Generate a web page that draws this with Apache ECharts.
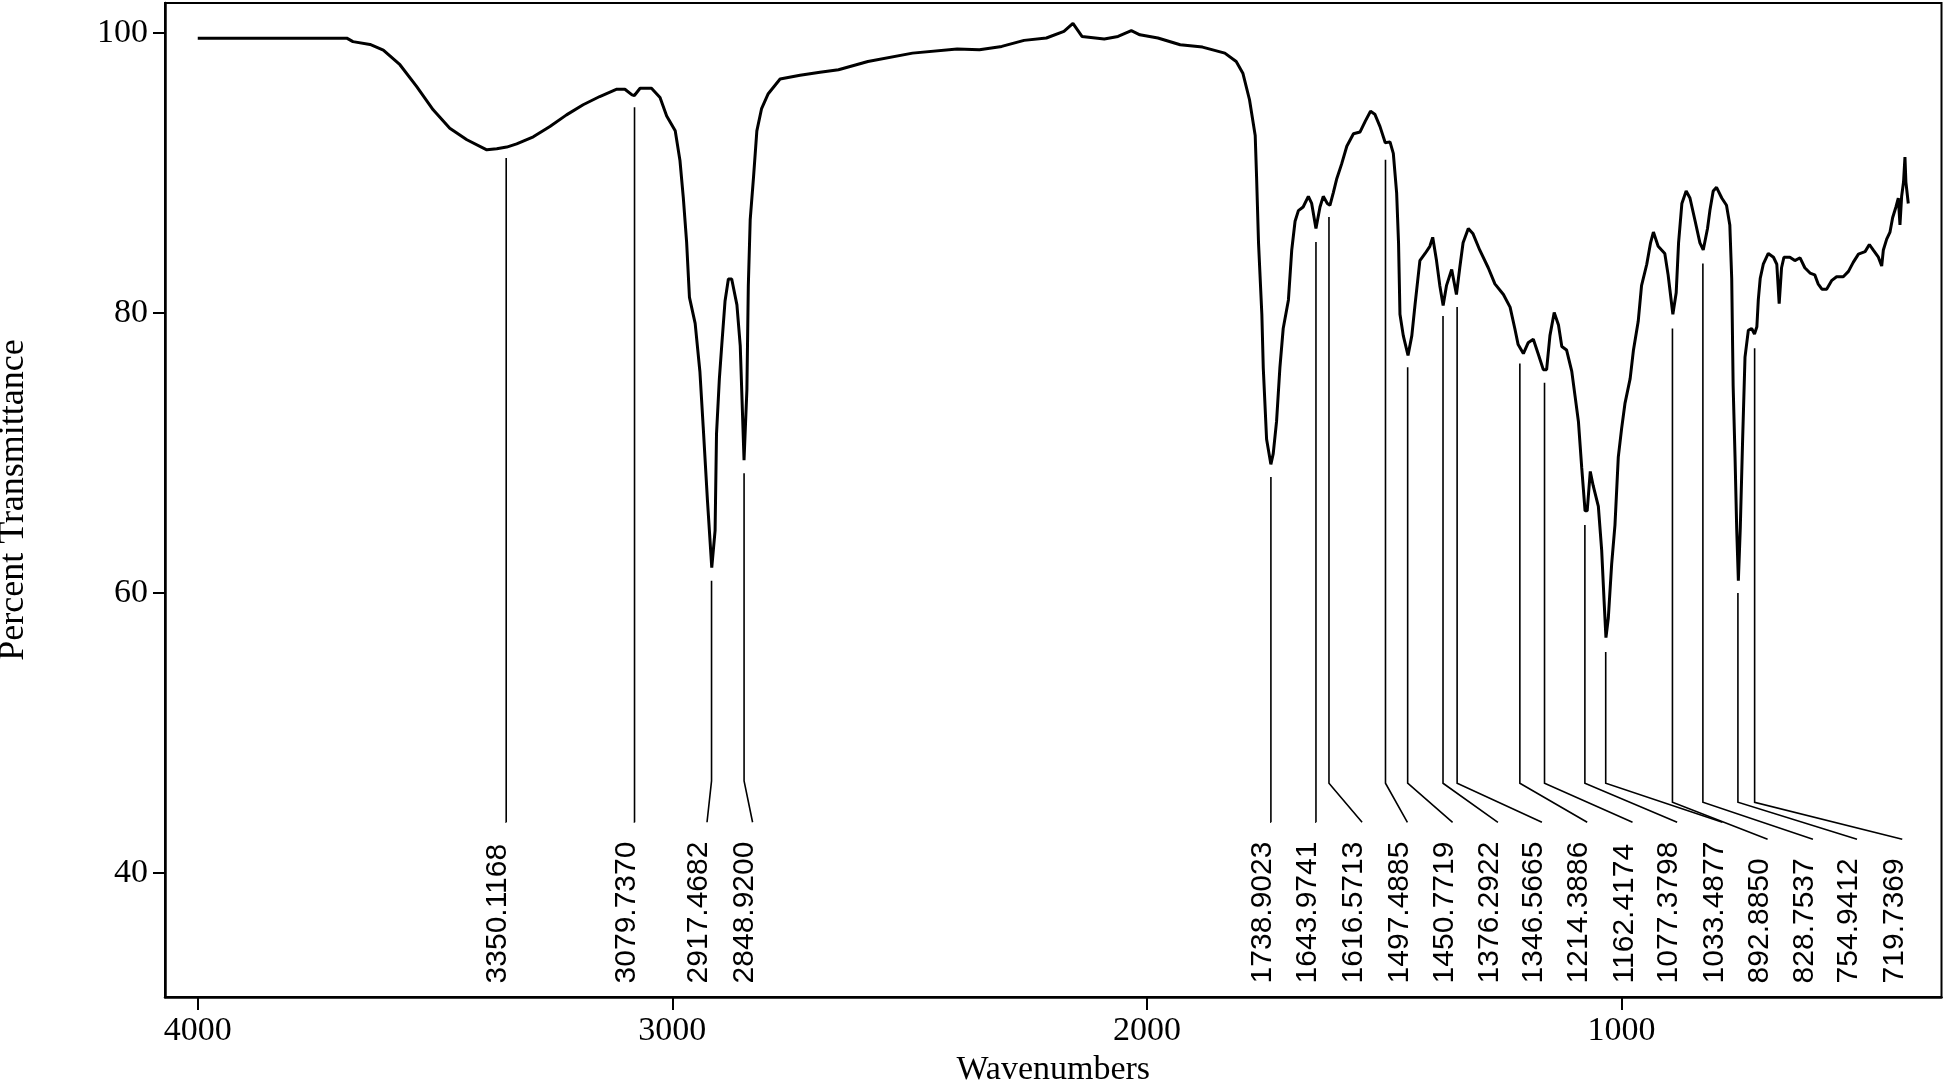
<!DOCTYPE html>
<html>
<head>
<meta charset="utf-8">
<script src="https://cdn.jsdelivr.net/npm/echarts@6/dist/echarts.min.js"></script>
<style>
  html, body { margin: 0; padding: 0; background: #fff; }
  #chart { width: 1946px; height: 1085px; }
</style>
</head>
<body>
<div id="chart"></div>
<script>
// spectrum (wavenumber, % transmittance)
var wavenumbers = [4000, 3720, 3686, 3673, 3637, 3609, 3574, 3539, 3504, 3469, 3433, 3391, 3370, 3349, 3328, 3293, 3258, 3223, 3188, 3153, 3117, 3100, 3085, 3080, 3068, 3044, 3026, 3012, 2994, 2984, 2977, 2970, 2964, 2952, 2942, 2935, 2926, 2917, 2910, 2907, 2901, 2896, 2889, 2882, 2875, 2864, 2857, 2849, 2843, 2840, 2836, 2829, 2822, 2812, 2798, 2773, 2731, 2689, 2650, 2588, 2494, 2400, 2353, 2306, 2259, 2212, 2175, 2156, 2137, 2090, 2061, 2033, 2015, 1977, 1930, 1883, 1836, 1812, 1798, 1784, 1772, 1769, 1765, 1758, 1755, 1748, 1739, 1734, 1727, 1720, 1713, 1702, 1695, 1688, 1681, 1671, 1660, 1653, 1644, 1635.5, 1628.6, 1620, 1614.5, 1607.5, 1600, 1590, 1579, 1565, 1551, 1540, 1529, 1520, 1509, 1498, 1488, 1481, 1474, 1470, 1467, 1460, 1450, 1442, 1435, 1425, 1414, 1404, 1398, 1390, 1383, 1376, 1369, 1358, 1348, 1341, 1334, 1323, 1313, 1299, 1281, 1267, 1249, 1235, 1225, 1218, 1207, 1197, 1186, 1176, 1165, 1158, 1151, 1142, 1133, 1126, 1116, 1105, 1098, 1091, 1084, 1077, 1072.5, 1066, 1060, 1049, 1042, 1037, 1033, 1028, 1021, 1014, 1007, 1000, 993, 982, 975, 965, 958, 947, 939, 933, 923, 909, 902, 892, 885, 880, 873, 864, 856, 845, 835, 828, 819, 814, 807, 800, 789, 779, 772, 768, 765, 761, 757.5, 754, 750, 745, 740, 733, 726, 720, 715, 712, 708, 701.5, 691, 680, 673, 668, 663, 658, 645.5, 635, 624, 614, 603, 593, 586, 578, 568, 557, 547, 533, 522, 512, 501, 487, 478, 470, 459, 452, 448.5, 441.5, 434.5, 429, 422, 417, 413.5, 410, 406, 403, 401, 396];
var transmittance = [99.65, 99.65, 99.65, 99.4, 99.2, 98.8, 97.75, 96.2, 94.53, 93.22, 92.39, 91.67, 91.75, 91.87, 92.1, 92.6, 93.34, 94.17, 94.89, 95.48, 96.0, 96.0, 95.6, 95.55, 96.07, 96.07, 95.41, 94.09, 93.03, 90.91, 88.27, 85.1, 81.13, 79.28, 75.84, 71.87, 66.58, 61.83, 64.47, 71.37, 75.31, 77.69, 80.88, 82.45, 82.45, 80.6, 77.69, 69.51, 74.52, 81.92, 86.68, 89.73, 93.03, 94.62, 95.68, 96.73, 97.0, 97.21, 97.39, 97.98, 98.58, 98.87, 98.82, 99.06, 99.49, 99.66, 100.13, 100.7, 99.77, 99.59, 99.77, 100.18, 99.89, 99.66, 99.18, 99.01, 98.58, 97.98, 97.15, 95.25, 92.7, 89.63, 85.03, 79.93, 76.1, 71.0, 69.21, 69.97, 72.27, 76.1, 78.91, 80.95, 84.52, 86.57, 87.33, 87.59, 88.35, 87.84, 86.05, 87.59, 88.35, 87.84, 87.71, 88.6, 89.63, 90.65, 91.93, 92.82, 92.95, 93.72, 94.43, 94.22, 93.33, 92.18, 92.24, 91.42, 88.6, 85.03, 79.93, 78.4, 76.99, 78.4, 80.69, 83.76, 84.27, 84.78, 85.42, 83.76, 81.97, 80.56, 81.97, 83.12, 81.34, 83.25, 85.03, 86.05, 85.67, 84.52, 83.25, 82.1, 81.34, 80.44, 78.91, 77.76, 77.12, 77.89, 78.14, 77.12, 75.97, 75.97, 78.4, 80.06, 79.16, 77.63, 77.38, 75.85, 74.06, 72.27, 68.95, 65.89, 65.89, 68.7, 67.7, 66.2, 63.08, 59.51, 56.83, 58.23, 62.06, 64.87, 69.72, 71.76, 73.54, 75.33, 77.38, 79.42, 81.97, 83.5, 85.03, 85.8, 84.78, 84.27, 82.74, 79.93, 81.46, 85.03, 87.84, 88.73, 88.23, 86.57, 85.03, 84.52, 86.05, 87.33, 88.73, 88.99, 88.23, 87.71, 86.31, 82.48, 74.82, 69.72, 64.61, 60.9, 64.61, 71.0, 76.87, 78.78, 78.91, 78.52, 79.04, 80.95, 82.48, 83.5, 84.27, 84.0, 83.5, 80.69, 83.25, 84.0, 84.0, 83.76, 83.96, 83.25, 82.87, 82.74, 82.1, 81.72, 81.72, 82.35, 82.61, 82.61, 82.99, 83.63, 84.22, 84.4, 84.91, 84.52, 84.0, 83.37, 84.52, 85.29, 85.8, 86.82, 87.59, 88.23, 86.31, 88.35, 89.37, 91.16, 89.37, 87.84];

// peak annotations
var peakLabels = ["3350.1168", "3079.7370", "2917.4682", "2848.9200", "1738.9023", "1643.9741", "1616.5713", "1497.4885", "1450.7719", "1376.2922", "1346.5665", "1214.3886", "1162.4174", "1077.3798", "1033.4877", "892.8850", "828.7537", "754.9412", "719.7369"];
var peakWn = [3350.1168, 3079.7370, 2917.4682, 2848.9200, 1738.9023, 1643.9741, 1616.5713, 1497.4885, 1450.7719, 1376.2922, 1346.5665, 1214.3886, 1162.4174, 1077.3798, 1033.4877, 892.8850, 828.7537, 754.9412, 719.7369];
var peakTop = [91.08, 94.72, 60.9, 68.57, 68.31, 85.09, 86.88, 90.96, 76.15, 79.81, 80.44, 76.41, 75.03, 64.87, 55.8, 78.91, 83.55, 60.01, 77.5];
var peakBend = [43.64, 43.64, 46.6, 46.6, 43.64, 43.64, 46.43, 46.43, 46.43, 46.43, 46.43, 46.43, 46.43, 46.43, 46.43, 45.07, 45.07, 45.07, 45.07];
var labelWn = [3350.1, 3079.7, 2927, 2831, 1738.9, 1643.97, 1546.8, 1451.3, 1356.1, 1260.6, 1167.9, 1072.5, 977.0, 883.0, 787.6, 692.4, 596.9, 504.0, 408.7];
var labelEndT = [43.64, 43.64, 43.64, 43.64, 43.64, 43.64, 43.64, 43.64, 43.64, 43.64, 43.64, 43.64, 43.64, 43.64, 43.64, 42.43, 42.43, 42.43, 42.43];
var labelBaseT = 32.13;

var xTicks = [1000, 2000, 3000, 4000];
var yTicks = [40, 60, 80, 100];

var spectrum = wavenumbers.map(function (w, i) { return [w, transmittance[i]]; });
var peaks = peakWn.map(function (w, i) {
  return [w, peakTop[i], peakBend[i], labelWn[i], labelEndT[i]];
});

function renderPeak(params, api) {
  var i = params.dataIndex;
  var top = api.coord([api.value(0), api.value(1)]);
  var bend = api.coord([api.value(0), api.value(2)]);
  var end = api.coord([api.value(3), api.value(4)]);
  var txt = api.coord([api.value(3), labelBaseT]);
  return {
    type: 'group',
    children: [
      {
        type: 'polyline',
        shape: { points: [top, bend, end] },
        style: { stroke: '#000', lineWidth: 1.6, fill: null }
      },
      {
        type: 'text',
        x: txt[0] + 7,
        y: txt[1],
        rotation: Math.PI / 2,
        style: {
          text: peakLabels[i],
          align: 'left',
          verticalAlign: 'bottom',
          font: '30px "Liberation Sans"',
          fill: '#000'
        }
      }
    ]
  };
}

var chart = echarts.init(document.getElementById('chart'));
var serif = '"Liberation Serif", "Times New Roman", serif';

var option = {
  animation: false,
  backgroundColor: '#fff',
  grid: {
    left: 165, right: 4.5, top: 3, bottom: 88,
    show: true, borderColor: '#000', borderWidth: 2,
    outerBoundsMode: 'none'
  },
  xAxis: {
    type: 'value',
    min: 326,
    max: 4069,
    inverse: true,
    name: 'Wavenumbers',
    nameLocation: 'middle',
    nameGap: 48,
    nameTextStyle: { fontFamily: serif, fontSize: 34, color: '#000' },
    axisLine: { lineStyle: { color: '#000', width: 2.5 } },
    axisTick: { customValues: xTicks, length: 13, lineStyle: { color: '#000', width: 2 } },
    axisLabel: {
      customValues: xTicks, margin: 17, fontFamily: serif, fontSize: 34, color: '#000',
      formatter: function (v) { return String(v); }
    },
    splitLine: { show: false }
  },
  yAxis: {
    type: 'value',
    min: 31.16,
    max: 102.16,
    name: 'Percent Transmittance',
    nameLocation: 'middle',
    nameGap: 133,
    nameTextStyle: { fontFamily: serif, fontSize: 36, color: '#000' },
    axisLine: { show: true, lineStyle: { color: '#000', width: 2.5 } },
    axisTick: { show: true, customValues: yTicks, length: 12, lineStyle: { color: '#000', width: 2 } },
    axisLabel: {
      customValues: yTicks, margin: 17, fontFamily: serif, fontSize: 34, color: '#000',
      formatter: function (v) { return String(v); }
    },
    splitLine: { show: false }
  },
  series: [
    {
      type: 'line',
      data: spectrum,
      showSymbol: false,
      lineStyle: { color: '#000', width: 3 },
      z: 3
    },
    {
      type: 'custom',
      data: peaks,
      renderItem: renderPeak,
      clip: false,
      silent: true,
      z: 2
    }
  ]
};

chart.setOption(option);
</script>
</body>
</html>
